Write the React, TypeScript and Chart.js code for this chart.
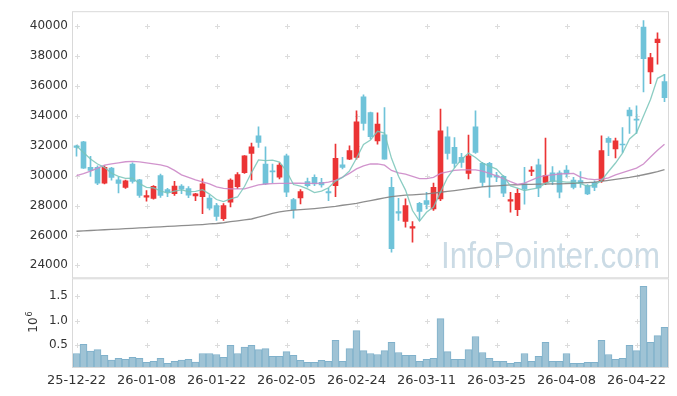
import React, { useEffect, useRef } from 'react';
import { Chart, registerables } from 'chart.js';
Chart.register(...registerables);

const dates = [
  '25-12-22','25-12-23','25-12-24','25-12-26','25-12-29','25-12-30','26-01-02','26-01-05','26-01-06','26-01-07',
  '26-01-08','26-01-09','26-01-12','26-01-13','26-01-14','26-01-15','26-01-16','26-01-19','26-01-20','26-01-21',
  '26-01-22','26-01-23','26-01-26','26-01-27','26-01-28','26-01-29','26-01-30','26-02-02','26-02-03','26-02-04',
  '26-02-05','26-02-06','26-02-09','26-02-10','26-02-11','26-02-12','26-02-13','26-02-19','26-02-20','26-02-23',
  '26-02-24','26-02-25','26-02-26','26-02-27','26-03-03','26-03-04','26-03-05','26-03-06','26-03-09','26-03-10',
  '26-03-11','26-03-12','26-03-13','26-03-16','26-03-17','26-03-18','26-03-19','26-03-20','26-03-23','26-03-24',
  '26-03-25','26-03-26','26-03-27','26-03-30','26-03-31','26-04-01','26-04-02','26-04-03','26-04-06','26-04-07',
  '26-04-08','26-04-09','26-04-10','26-04-13','26-04-14','26-04-15','26-04-16','26-04-17','26-04-20','26-04-21',
  '26-04-22','26-04-23','26-04-24','26-04-27','26-04-28'
];

const opens = [
  32000, 32270, 30550, 30550, 29500, 30500, 29720, 29220, 30780, 29720,
  28560, 28480, 30000, 29070, 28800, 29310, 29130, 28650, 28600, 28500,
  28000, 27130, 28220, 29270, 30200, 31490, 32670, 30780, 30300, 29890,
  31330, 28400, 28510, 29600, 29890, 29550, 28930, 29330, 30730, 31110,
  31220, 35270, 34220, 32330, 32730, 29220, 27600, 26930, 26490, 28150,
  28330, 27780, 28450, 32600, 31890, 31220, 30150, 33270, 30820, 30820,
  30000, 29950, 28290, 27730, 29450, 30290, 30730, 29550, 30180, 30180,
  30380, 29710, 29670, 29330, 29550, 29670, 32490, 31780, 32110, 34380,
  33780, 39930, 36930, 38890, 36290
];
const highs = [
  32050, 32300, 31300, 30650, 30650, 30550, 29900, 29700, 30850, 29750,
  29000, 29330, 30100, 29150, 29620, 29400, 29270, 28820, 29780, 28700,
  28150, 28130, 29780, 30200, 31350, 32180, 33270, 31930, 30780, 30850,
  31450, 28490, 29070, 29830, 30050, 29820, 29150, 32110, 31220, 32000,
  34330, 35400, 34250, 34200, 34550, 29880, 28490, 28450, 26930, 28220,
  28890, 29510, 34450, 33270, 32550, 31500, 32710, 34330, 30890, 30890,
  30220, 30000, 28890, 29110, 30550, 30600, 31110, 32510, 30600, 30330,
  30670, 29890, 30270, 29400, 29650, 32670, 32600, 32510, 33220, 34550,
  34670, 40380, 38180, 39550, 36780
];
const lows = [
  31300, 30480, 29950, 29400, 29450, 29700, 28850, 29150, 29500, 28550,
  28300, 28430, 28550, 28600, 28670, 28800, 28520, 28330, 27450, 27700,
  27000, 27000, 27900, 29130, 30150, 29720, 31890, 29400, 29530, 29780,
  28600, 27150, 28110, 29230, 29330, 29230, 28330, 28600, 30450, 31070,
  31110, 33050, 32450, 32100, 31110, 24880, 27000, 26550, 25550, 27000,
  27780, 27670, 28330, 31110, 30550, 30550, 29780, 31490, 29270, 28550,
  29600, 28600, 27550, 27330, 28100, 30000, 28600, 29400, 29400, 28510,
  29890, 29110, 29220, 28730, 29000, 29550, 31330, 31180, 31550, 32820,
  32820, 35600, 36150, 37450, 34950
];
const closes = [
  31880, 30500, 30350, 29500, 30550, 29880, 29480, 29660, 29620, 28680,
  28660, 29280, 28670, 28890, 29310, 29090, 28690, 28780, 29450, 27820,
  27270, 28000, 29700, 30070, 31330, 31930, 32220, 29450, 30250, 30710,
  28890, 27720, 28930, 29330, 29450, 29380, 28850, 31150, 30550, 31670,
  33600, 33500, 32600, 33450, 31110, 25120, 27490, 28000, 26600, 27600,
  28070, 29220, 33000, 31490, 30820, 30890, 31330, 31550, 29550, 29890,
  29890, 28820, 28400, 28820, 29100, 30380, 29180, 30000, 29620, 28890,
  30110, 29220, 29490, 28780, 29220, 31670, 32220, 32330, 32050, 34000,
  33710, 37820, 37890, 39130, 35220
];
// volume in millions of shares
const volumes = [
  0.32, 0.51, 0.37, 0.40, 0.28, 0.185, 0.22, 0.20, 0.24, 0.22,
  0.14, 0.16, 0.22, 0.12, 0.16, 0.185, 0.20, 0.145, 0.32, 0.32,
  0.30, 0.24, 0.49, 0.32, 0.45, 0.49, 0.40, 0.42, 0.26, 0.26,
  0.36, 0.28, 0.18, 0.14, 0.14, 0.18, 0.16, 0.59, 0.16, 0.42,
  0.79, 0.38, 0.32, 0.30, 0.38, 0.55, 0.34, 0.28, 0.28, 0.16,
  0.20, 0.22, 1.04, 0.36, 0.20, 0.20, 0.40, 0.67, 0.34, 0.22,
  0.16, 0.16, 0.12, 0.14, 0.32, 0.16, 0.26, 0.55, 0.16, 0.16,
  0.32, 0.12, 0.12, 0.14, 0.14, 0.59, 0.30, 0.20, 0.22, 0.49,
  0.38, 1.705, 0.55, 0.69, 0.86
];
const ma5 = [
  32000, 31550, 31110, 30780, 30556, 30156, 29952, 29814, 29838, 29464,
  29220, 29180, 28982, 28836, 28962, 29048, 28930, 28952, 29064, 28766,
  28402, 28264, 28448, 28572, 29274, 30206, 31050, 31000, 31036, 30912,
  30304, 29404, 29300, 29116, 28864, 28962, 29188, 29632, 29876, 30320,
  31164, 32094, 32384, 32964, 32852, 31156, 29954, 29034, 27664, 26962,
  27552, 27898, 28898, 29876, 30520, 31084, 31506, 31216, 30828, 30642,
  30442, 29940, 29310, 29164, 29006, 29104, 29176, 29496, 29656, 29614,
  29560, 29568, 29466, 29298, 29364, 29676, 30276, 30844, 31498, 32454,
  32862, 33982, 35094, 36510, 36754
];
const ma20 = [
  30000, 30130, 30300, 30500, 30700, 30780, 30850, 30930, 30950, 30920,
  30850, 30780, 30720, 30600, 30350, 30050, 29880, 29720, 29580, 29450,
  29250, 29150, 29120, 29110, 29120, 29250, 29380, 29440, 29470, 29480,
  29480, 29490, 29490, 29480, 29480, 29500, 29560, 29680, 29900, 30150,
  30450, 30650, 30780, 30790, 30700, 30350, 30180, 30100, 29950, 29800,
  29800, 29880, 30150, 30250, 30350, 30380, 30390, 30380, 30300, 30150,
  29980, 29800, 29600, 29420, 29500, 29700, 29900, 30000, 30050, 30110,
  30140, 30150, 29900, 29780, 29730, 29760, 29850, 30050, 30200, 30350,
  30500, 30780, 31250, 31700, 32100
];
const ma60 = [
  26280, 26300, 26330, 26350, 26380, 26400, 26420, 26450, 26470, 26500,
  26520, 26550, 26570, 26600, 26620, 26650, 26670, 26700, 26730, 26770,
  26800, 26850, 26920, 26980, 27040, 27100, 27220, 27350, 27470, 27580,
  27640, 27690, 27730, 27760, 27800, 27850, 27900, 27950, 28020, 28080,
  28150, 28240, 28330, 28420, 28510, 28600, 28650, 28690, 28720, 28750,
  28780, 28830, 28890, 28950, 29000, 29060, 29130, 29190, 29250, 29290,
  29320, 29350, 29380, 29390, 29410, 29420, 29430, 29440, 29445, 29450,
  29470, 29490, 29510, 29530, 29560, 29610, 29680, 29750, 29820, 29880,
  29970, 30060, 30160, 30270, 30400
];
const priceTicks = [24000, 26000, 28000, 30000, 32000, 34000, 36000, 38000, 40000];
const volumeTicks = [0.5, 1.0, 1.5];

const UP = '#eb3435';
const DOWN = '#6fc3d9';
const FONT = 'DejaVu Sans';

export default function App() {
  const ref = useRef<HTMLCanvasElement>(null);
  useEffect(() => {
    document.body.style.margin = '0';
    const canvas = ref.current!;
    const colors = closes.map((c, i) => (c >= opens[i] ? UP : DOWN));

    const decor = {
      id: 'decor',
      beforeDatasetsDraw(chart: any) {
        const { ctx, chartArea, scales } = chart;
        const x = scales.x, y = scales.y, yv = scales.yv;
        ctx.save();
        // watermark
        ctx.fillStyle = '#cbdbe5';
        ctx.font = '36px "Liberation Sans"';
        const t = 'InfoPointer.com';
        const w = ctx.measureText(t).width;
        ctx.translate(chartArea.right - 227, y.bottom - 10);
        ctx.scale(219 / w, 1);
        ctx.textBaseline = 'alphabetic';
        ctx.fillText(t, 0, 0);
        ctx.restore();

        ctx.save();
        // cross grid marks
        ctx.strokeStyle = '#dcdcdc';
        ctx.lineWidth = 1;
        const cross = (px: number, py: number) => {
          const cx = Math.round(px) + 0.5, cy = Math.round(py) + 0.5;
          ctx.beginPath();
          ctx.moveTo(cx - 2.5, cy); ctx.lineTo(cx + 2.5, cy);
          ctx.moveTo(cx, cy - 2.5); ctx.lineTo(cx, cy + 2.5);
          ctx.stroke();
        };
        for (let i = 0; i < dates.length; i += 10) {
          const px = x.getPixelForValue(i);
          priceTicks.forEach(v => cross(px, y.getPixelForValue(v)));
          volumeTicks.forEach(v => cross(px, yv.getPixelForValue(v)));
        }
        // panel borders
        ctx.strokeStyle = '#d9d9d9';
        ctx.strokeRect(chartArea.left - 0.5, y.top - 0.5, chartArea.right - chartArea.left + 1, y.bottom - y.top);
        ctx.strokeRect(chartArea.left - 0.5, yv.top + 0.5, chartArea.right - chartArea.left + 1, yv.bottom - yv.top);
        ctx.restore();
      },
      afterDraw(chart: any) {
        const { ctx, scales } = chart;
        const yv = scales.yv;
        ctx.save();
        ctx.fillStyle = '#333';
        const cy = (yv.top + yv.bottom) / 2;
        ctx.translate(37, cy + 10);
        ctx.rotate(-Math.PI / 2);
        ctx.textBaseline = 'alphabetic';
        ctx.font = `12px "${FONT}"`;
        ctx.fillText('10', 0, 0);
        const w = ctx.measureText('10').width;
        ctx.font = `8px "${FONT}"`;
        ctx.fillText('6', w + 1, -5);
        ctx.restore();
      }
    };

    const chart = new Chart(canvas, {
      data: {
        labels: dates,
        datasets: [
          { type: 'line', label: 'MA5', data: ma5, yAxisID: 'y', borderColor: 'rgba(120,196,184,0.85)', borderWidth: 1.3, pointRadius: 0, order: 0 },
          { type: 'line', label: 'MA20', data: ma20, yAxisID: 'y', borderColor: 'rgba(204,136,200,0.9)', borderWidth: 1.3, pointRadius: 0, order: 0 },
          { type: 'line', label: 'MA60', data: ma60, yAxisID: 'y', borderColor: 'rgba(130,130,130,0.9)', borderWidth: 1.3, pointRadius: 0, order: 0 },
          { type: 'bar', label: 'wick', data: lows.map((l, i) => [l, highs[i]]), yAxisID: 'y', backgroundColor: colors, barThickness: 1, grouped: false, order: 2 },
          { type: 'bar', label: 'body', data: opens.map((o, i) => [o, closes[i]]), yAxisID: 'y', backgroundColor: colors, barThickness: 5, minBarLength: 1, grouped: false, order: 1 },
          { type: 'bar', label: 'volume', data: volumes, yAxisID: 'yv', backgroundColor: '#9fc3d5', borderColor: '#80b1cb', borderWidth: 1, borderSkipped: 'start', categoryPercentage: 1, barPercentage: 1, grouped: false, order: 3 }
        ] as any
      },
      options: {
        responsive: false,
        animation: false,
        layout: { padding: { top: 11, right: 9, left: 0, bottom: 0 } },
        plugins: { legend: { display: false }, tooltip: { enabled: false } },
        scales: {
          x: {
            type: 'category',
            offset: true,
            grid: { display: false, drawTicks: false },
            border: { display: false },
            ticks: {
              autoSkip: false, maxRotation: 0, minRotation: 0, padding: 6, color: '#333',
              font: { family: FONT, size: 13 },
              callback: (_v: any, i: number) => (i % 10 === 0 ? dates[i] : '')
            },
            afterFit: (s: any) => { s.height = 29; }
          },
          yv: {
            type: 'linear', position: 'left', stack: 'panels', stackWeight: 1,
            min: 0.042, max: 1.87,
            grid: { display: false, drawTicks: false },
            border: { display: false },
            ticks: { padding: 5, color: '#333', font: { family: FONT, size: 12 }, callback: (v: any) => Number(v).toFixed(1) },
            afterBuildTicks: (s: any) => { s.ticks = volumeTicks.map(v => ({ value: v })); },
            afterFit: (s: any) => { s.width = 73; }
          },
          y: {
            type: 'linear', position: 'left', stack: 'panels', stackWeight: 3,
            min: 23133, max: 40933,
            grid: { display: false, drawTicks: false },
            border: { display: false },
            ticks: { padding: 5, color: '#333', font: { family: FONT, size: 12 }, callback: (v: any) => String(v) },
            afterBuildTicks: (s: any) => { s.ticks = priceTicks.map(v => ({ value: v })); },
            afterFit: (s: any) => { s.width = 73; }
          }
        }
      } as any,
      plugins: [decor]
    });
    return () => chart.destroy();
  }, []);
  return (
    <div style={{ position: 'fixed', left: 0, top: 0, width: 677, height: 396, background: '#fff' }}>
      <canvas ref={ref} width={677} height={396} style={{ display: 'block' }} />
    </div>
  );
}
